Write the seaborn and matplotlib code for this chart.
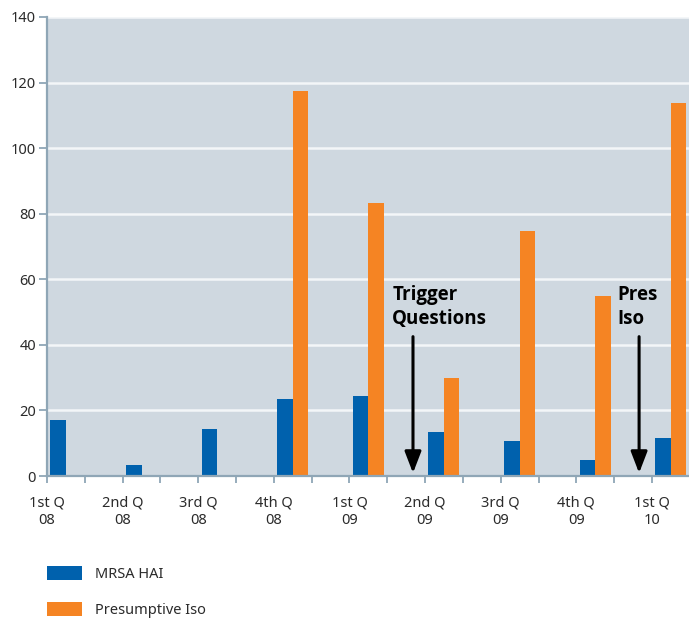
import numpy as np
import pandas as pd
import matplotlib
matplotlib.use("Agg")
import matplotlib.pyplot as plt
import seaborn as sns
from matplotlib.ticker import FixedLocator, NullFormatter

# Quarterly counts
quarters = ["1st Q\n08", "2nd Q\n08", "3rd Q\n08", "4th Q\n08", "1st Q\n09",
            "2nd Q\n09", "3rd Q\n09", "4th Q\n09", "1st Q\n10"]
mrsa_hai = [17.0, 3.4, 14.3, 23.6, 24.5, 13.3, 10.6, 4.8, 11.5]
presumptive_iso = [0.0, 0.0, 0.0, 117.3, 83.2, 30.0, 74.8, 54.8, 113.8]
series_names = ["MRSA HAI", "Presumptive Iso"]
series_colors = ["#0061AD", "#F58423"]
y_ticks = [0, 20, 40, 60, 80, 100, 120, 140]

sns.set_theme(style="white")
plt.rcParams["font.family"] = ["Noto Sans", "DejaVu Sans"]

text_color = "#2b2b2b"
axis_color = "#8FA6B6"
bold_family = ["Open Sans", "Lato", "DejaVu Sans"]

# Each quarter occupies two slots on the axis: the bars sit in the first one
pos = np.arange(len(quarters)) * 2
df = pd.DataFrame({
    "pos": np.concatenate([pos, pos]),
    "series": np.repeat(series_names, len(quarters)),
    "value": mrsa_hai + presumptive_iso,
})

fig = plt.figure(figsize=(6.89, 6.19), dpi=100)
ax = fig.add_axes([47 / 689, 143 / 619, 642 / 689, 459 / 619])
ax.set_facecolor("#CFD8E0")

sns.barplot(data=df, x="pos", y="value", hue="series", hue_order=series_names,
            palette=series_colors, native_scale=True, width=0.41,
            saturation=1, linewidth=0, errorbar=None, ax=ax)

handles, labels = ax.get_legend_handles_labels()
if ax.get_legend() is not None:
    ax.get_legend().remove()

ax.set_xlim(-0.5, 16.48)
ax.set_ylim(0, 140)
ax.set_xlabel("")
ax.set_ylabel("")

# Tick marks at every slot boundary, labels at the start of each quarter
ax.xaxis.set_major_locator(FixedLocator(pos - 0.5))
ax.set_xticklabels(quarters, linespacing=1.25)
ax.xaxis.set_minor_locator(FixedLocator(pos + 0.5))
ax.xaxis.set_minor_formatter(NullFormatter())
ax.set_yticks(y_ticks)

ax.tick_params(axis="x", which="both", direction="out", length=5, width=1.3,
               color=axis_color, labelsize=10.5, labelcolor=text_color, pad=9,
               bottom=True)
ax.tick_params(axis="y", direction="out", length=6, width=1.3,
               color=axis_color, labelsize=10.5, labelcolor=text_color, pad=2,
               left=True)

ax.grid(axis="y", color="#F3F6F8", linewidth=1.8)
ax.set_axisbelow(True)
for side in ("top", "right"):
    ax.spines[side].set_visible(False)
for side in ("left", "bottom"):
    ax.spines[side].set_color(axis_color)
    ax.spines[side].set_linewidth(1.6)

# Event markers
arrow_style = dict(arrowstyle="-|>,head_length=1.3,head_width=0.5",
                   lw=2.2, color="black", mutation_scale=10,
                   shrinkA=0, shrinkB=0)
ax.annotate("", xy=(9.18, 0.9), xytext=(9.18, 42.5), arrowprops=arrow_style)
ax.annotate("", xy=(15.16, 0.9), xytext=(15.16, 42.5), arrowprops=arrow_style)
ax.text(8.63, 58.3, "Trigger\nQuestions", fontsize=13.5, fontweight="bold",
        family=bold_family, color="black", ha="left", va="top",
        linespacing=1.25)
ax.text(14.58, 58.3, "Pres\nIso", fontsize=13.5, fontweight="bold",
        family=bold_family, color="black", ha="left", va="top",
        linespacing=1.25)

fig.legend(handles, labels, loc="upper left",
           bbox_to_anchor=(47 / 689, 1 - 566 / 619), frameon=False,
           fontsize=10.5, handlelength=2.4, handleheight=1.1,
           handletextpad=0.9, labelspacing=1.4, borderpad=0,
           borderaxespad=0, labelcolor=text_color)

fig.savefig("out.png", dpi=100)
